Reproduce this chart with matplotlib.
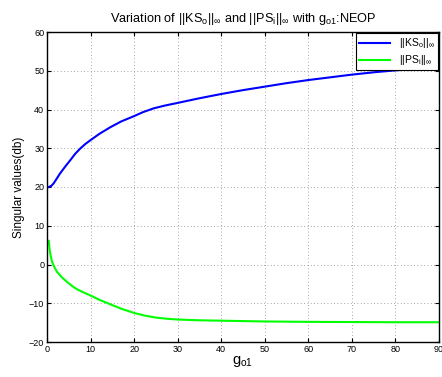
import matplotlib
matplotlib.use("Agg")
import matplotlib.pyplot as plt

g_ks = [0.4, 1.0, 1.5, 2.2, 3.0, 4.2, 5.4, 6.5, 7.7, 8.8, 10, 12, 14.5, 17, 20, 22, 24.5, 27, 30, 35, 40, 45, 50, 55, 60, 65, 70, 75, 80, 85, 90]
ks = [20.0, 20.3, 20.9, 22.1, 23.5, 25.3, 27.0, 28.6, 30.0, 31.1, 32.1, 33.7, 35.4, 36.9, 38.3, 39.3, 40.3, 41.0, 41.7, 42.9, 44.0, 45.0, 45.9, 46.8, 47.6, 48.3, 49.0, 49.6, 50.1, 50.5, 50.8]
g_ps = [0.4, 0.7, 1.15, 1.7, 2.3, 3.4, 4.6, 5.7, 6.9, 8.4, 10, 12, 14.6, 17, 20, 22.5, 25, 27.5, 30, 35, 40, 50, 60, 70, 80, 90]
ps = [6.1, 3.0, 0.7, -0.7, -1.9, -3.3, -4.5, -5.5, -6.4, -7.2, -8.0, -9.1, -10.3, -11.4, -12.5, -13.2, -13.7, -14.0, -14.2, -14.4, -14.5, -14.7, -14.8, -14.85, -14.9, -14.9]

xticks = [0, 10, 20, 30, 40, 50, 60, 70, 80, 90]
yticks = [-20, -10, 0, 10, 20, 30, 40, 50, 60]

plt.rcParams['font.family'] = ['Liberation Sans', 'DejaVu Sans']
plt.rcParams['mathtext.fontset'] = 'custom'
plt.rcParams['mathtext.rm'] = 'Liberation Sans'
plt.rcParams['mathtext.it'] = 'Liberation Sans'

fig = plt.figure(figsize=(4.42, 3.77), dpi=100)
ax = fig.add_axes([47/442, 1-342/377, (439-47)/442, (342-32)/377])
ax.plot(g_ks, ks, color='#0000ff', lw=1.5, label=r'||KS$_\mathrm{o}$||$_\infty$')
ax.plot(g_ps, ps, color='#00ff00', lw=1.5, label=r'||PS$_\mathrm{i}$||$_\infty$')
ax.set_xlim(0, 90)
ax.set_ylim(-20, 60)
ax.set_xticks(xticks)
ax.set_yticks(yticks)
ax.tick_params(direction='in', top=True, right=True, labelsize=6.5, length=3, pad=2)
ax.grid(True, linestyle=(0, (1, 3)), color='#888888', lw=0.6)
for s in ax.spines.values():
    s.set_linewidth(1.0)
ax.set_title(r'Variation of ||KS$_\mathrm{o}$||$_\infty$ and ||PS$_\mathrm{i}$||$_\infty$ with g$_\mathrm{o1}$:NEOP', fontsize=9.2, pad=7)
ax.set_xlabel(r'g$_\mathrm{o1}$', fontsize=10.5, labelpad=0)
ax.set_ylabel('Singular values(db)', fontsize=8.5, labelpad=3)
leg = ax.legend(loc='upper right', fontsize=7.5, fancybox=False, edgecolor='black',
                framealpha=1, borderaxespad=0.1, handlelength=3.0, borderpad=0.3, labelspacing=0.3)
leg.get_frame().set_linewidth(0.8)
fig.savefig('out.png', dpi=100)
